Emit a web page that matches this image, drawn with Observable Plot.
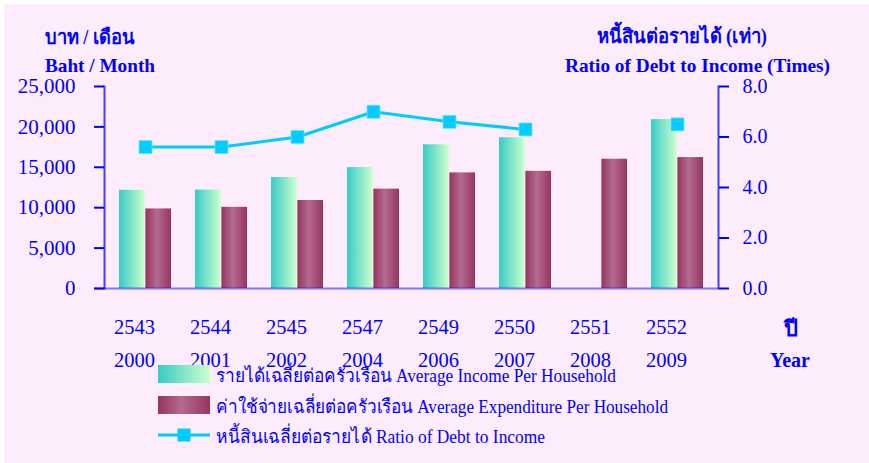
<!DOCTYPE html>
<html>
<head>
<meta charset="utf-8">
<script src="https://cdn.jsdelivr.net/npm/d3@7"></script>
<script src="https://cdn.jsdelivr.net/npm/@observablehq/plot@0.6"></script>
<style>
  html, body { margin: 0; padding: 0; background: #ffffff; }
  svg { display: block; }
</style>
</head>
<body>
<div id="chart"></div>
<script>
const years = ["2543", "2544", "2545", "2547", "2549", "2550", "2551", "2552"];
const yearsAD = ["2000", "2001", "2002", "2004", "2006", "2007", "2008", "2009"];
const income = [12150, 12185, 13736, 14963, 17787, 18660, null, 20903];
const expenditure = [9848, 10050, 10889, 12297, 14311, 14500, 16000, 16205];
const debtRatio = [5.6, 5.6, 6.0, 7.0, 6.6, 6.3, null, 6.5];
const leftTicks = [0, 5000, 10000, 15000, 20000, 25000];
const rightTicks = [0, 2, 4, 6, 8];
const legendLabels = [
  "รายได้เฉลี่ยต่อครัวเรือน Average Income Per Household",
  "ค่าใช้จ่ายเฉลี่ยต่อครัวเรือน Average Expenditure Per Household",
  "หนี้สินเฉลี่ยต่อรายได้ Ratio of Debt to Income"
];

const yMax = 25000, rMax = 8, k = yMax / rMax;
const rows = years.map((y, i) => ({year: y, ad: yearsAD[i], income: income[i], expenditure: expenditure[i], ratio: debtRatio[i]}));

const serif = "'Liberation Serif', 'Times New Roman', serif";
const blue = "#0000ff";

const chart = Plot.plot({
  width: 869, height: 463,
  marginLeft: 104, marginRight: 151, marginTop: 86, marginBottom: 175,
  style: {background: "transparent", fontFamily: serif, color: blue},
  x: {domain: years, padding: 0, axis: null},
  y: {domain: [0, yMax], axis: null},
  marks: [
    Plot.barY(rows.filter(d => d.income != null), {x: "year", y: "income", fill: "url(#gInc)", insetLeft: 12, insetRight: 38.4}),
    Plot.barY(rows, {x: "year", y: "expenditure", fill: "url(#gExp)", insetLeft: 38.4, insetRight: 12}),
    Plot.ruleY([0], {stroke: blue, strokeOpacity: 0.5, strokeWidth: 2, insetLeft: -10}),
    Plot.frame({anchor: "left", stroke: blue, strokeOpacity: 0.75, strokeWidth: 2}),
    Plot.frame({anchor: "right", stroke: blue, strokeOpacity: 0.75, strokeWidth: 2}),
    Plot.axisY({anchor: "left", label: null, ticks: leftTicks, tickFormat: d3.format(","), tickSize: 10, tickPadding: 19, fontSize: 21, strokeWidth: 2}),
    Plot.axisY({anchor: "right", label: null, ticks: rightTicks.map(v => v * k), tickFormat: d => (d / k).toFixed(1), tickSize: 10, tickPadding: 14, fontSize: 20, strokeWidth: 2}),
    Plot.axisX({anchor: "bottom", label: null, tickSize: 0, tickPadding: 31, fontSize: 20.5, dx: -11}),
    Plot.axisX({anchor: "bottom", label: null, tickSize: 0, tickPadding: 64, fontSize: 20.5, dx: -11, tickFormat: d => yearsAD[years.indexOf(d)]}),
    Plot.lineY(rows, {x: "year", y: d => d.ratio == null ? NaN : d.ratio * k, stroke: "#00ccff", strokeWidth: 3}),
    Plot.dot(rows.filter(d => d.ratio != null), {x: "year", y: d => d.ratio * k, symbol: "square", r: 7.3, fill: "#00ccff", stroke: "#66e0ff", strokeWidth: 0.8})
  ]
});

document.getElementById("chart").appendChild(chart);
const svg = d3.select(chart);

// background
svg.insert("rect", ":first-child").attr("x", 4).attr("y", 4).attr("width", 865).attr("height", 459).attr("fill", "#fdedfc");

// gradients
const defs = svg.append("defs");
const gi = defs.append("linearGradient").attr("id", "gInc").attr("x1", "0").attr("x2", "1").attr("y1", "0").attr("y2", "0");
gi.append("stop").attr("offset", "0").attr("stop-color", "#38cbc8");
gi.append("stop").attr("offset", "1").attr("stop-color", "#ccffcc");
const ge = defs.append("linearGradient").attr("id", "gExp").attr("x1", "0").attr("x2", "1").attr("y1", "0").attr("y2", "0");
ge.append("stop").attr("offset", "0").attr("stop-color", "#96355f");
ge.append("stop").attr("offset", "0.45").attr("stop-color", "#b36b8f");
ge.append("stop").attr("offset", "1").attr("stop-color", "#963462");

// titles
const g = svg.append("g").attr("font-family", serif).attr("fill", blue).attr("text-anchor", "start");
function txt(x, y, s, size, bold, len, anchor) {
  const t = g.append("text").attr("x", x).attr("y", y).attr("font-size", size).attr("text-anchor", anchor || "start").text(s);
  if (bold) t.attr("font-weight", "bold");
  if (len) t.attr("textLength", len).attr("lengthAdjust", "spacingAndGlyphs");
  return t;
}
txt(45, 44, "บาท / เดือน", 20, true, 90);
txt(45, 72, "Baht / Month", 19, true, 110);
txt(597, 43, "หนี้สินต่อรายได้ (เท่า)", 20, true, 170);
txt(565, 72, "Ratio of Debt to Income (Times)", 19, true, 265);
txt(791, 336, "ปี", 22, true, null, "middle");
txt(790, 367, "Year", 20, true, null, "middle");

// legend
const lg = svg.append("g");
lg.append("rect").attr("x", 158).attr("y", 365).attr("width", 52).attr("height", 18).attr("fill", "url(#gInc)");
lg.append("rect").attr("x", 158).attr("y", 396).attr("width", 52).attr("height", 18).attr("fill", "url(#gExp)");
lg.append("line").attr("x1", 158).attr("x2", 210).attr("y1", 435).attr("y2", 435).attr("stroke", "#00ccff").attr("stroke-width", 3);
lg.append("rect").attr("x", 177.5).attr("y", 428.5).attr("width", 13).attr("height", 13).attr("fill", "#00ccff");
txt(216, 382, legendLabels[0], 19, false, 400);
txt(216, 413, legendLabels[1], 19, false, 452);
txt(216, 443, legendLabels[2], 19, false, 329);
</script>
</body>
</html>
